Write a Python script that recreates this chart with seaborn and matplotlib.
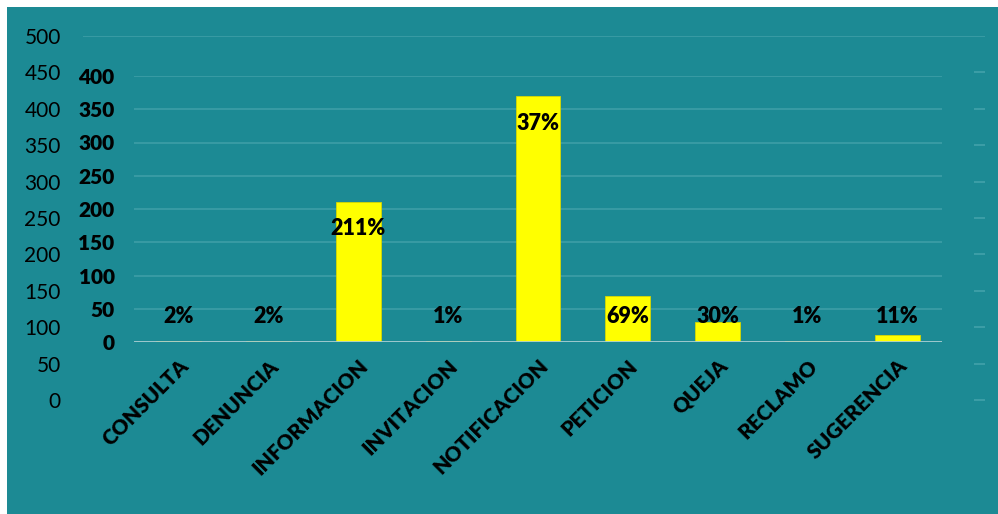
import numpy as np
import pandas as pd
import matplotlib
matplotlib.use("Agg")
import matplotlib.pyplot as plt
import seaborn as sns

# data
categories = ["CONSULTA", "DENUNCIA", "INFORMACION", "INVITACION", "NOTIFICACION",
              "PETICION", "QUEJA", "RECLAMO", "SUGERENCIA"]
values = [2, 2, 211, 1, 370, 69, 30, 1, 11]
bar_labels = ["2%", "2%", "211%", "1%", "37%", "69%", "30%", "1%", "11%"]
outer_ticks = [0, 50, 100, 150, 200, 250, 300, 350, 400, 450, 500]
inner_ticks = [0, 50, 100, 150, 200, 250, 300, 350, 400]

df = pd.DataFrame({"categoria": categories, "valor": values})

sns.set_theme(style="white")
plt.rcParams["font.family"] = ["Lato", "DejaVu Sans"]
plt.rcParams["text.color"] = "black"
plt.rcParams["xtick.color"] = "black"
plt.rcParams["ytick.color"] = "black"

teal = "#1C8A94"
grid_c = "#3A9CA5"

W, H = 998, 514
fig = plt.figure(figsize=(W / 100, H / 100), dpi=100, facecolor="white")

def box(x0, x1, ytop, ybot):
    return [x0 / W, 1 - ybot / H, (x1 - x0) / W, (ybot - ytop) / H]

# teal background panel
bg = fig.add_axes(box(7, W, 7, H), zorder=-1)
bg.set_facecolor(teal)
bg.set_xticks([])
bg.set_yticks([])
for s in bg.spines.values():
    s.set_visible(False)

# outer (background) axis 0-500
ax0 = fig.add_axes(box(83, 985, 36, 400), zorder=1)
ax0.set_facecolor("none")
ax0.set_ylim(0, 500)
ax0.set_yticks(outer_ticks)
ax0.set_yticklabels([str(t) for t in outer_ticks], color="black", fontsize=15)
ax0.set_xticks([])
ax0.axhline(500, color=grid_c, lw=1.3, zorder=0)
ax0.tick_params(axis="y", left=False, right=True, labelleft=True, labelright=False,
                direction="in", length=8, width=1.3, color="#3FA0A9", pad=16)
ax0.yaxis.get_major_ticks()[0].tick2line.set_color("#A8CDD2")
ax0.yaxis.get_major_ticks()[0].tick2line.set_linewidth(2)
ax0.yaxis.get_major_ticks()[-1].tick2line.set_visible(False)
for s in ax0.spines.values():
    s.set_visible(False)

# inner axis with the bars
ax = fig.add_axes(box(134, 942, 76, 342), zorder=2)
ax.set_facecolor("none")
sns.barplot(data=df, x="categoria", y="valor", color="#FFFF00", width=0.5,
            saturation=1, edgecolor="#D8D800", linewidth=0.6, ax=ax, zorder=3)
ax.set_ylim(0, 400)
ax.set_xlim(-0.5, len(categories) - 0.5)
ax.set_yticks(inner_ticks)
ax.set_yticklabels([str(t) for t in inner_ticks], fontweight="heavy",
                   color="black", fontsize=15)
ax.yaxis.grid(True, color=grid_c, lw=1.3)
ax.set_axisbelow(True)
ax.axhline(0, color="#A8CDD2", lw=2, zorder=4)
for s in ax.spines.values():
    s.set_visible(False)
ax.set_xlabel("")
ax.set_ylabel("")
ax.tick_params(axis="y", length=0, pad=14)
ax.tick_params(axis="x", length=0, pad=10)
ax.set_xticks(range(len(categories)))
ax.set_xticklabels(categories, rotation=45, ha="right", rotation_mode="anchor",
                   fontsize=15, fontweight="heavy", color="black")

for i, (v, lab) in enumerate(zip(values, bar_labels)):
    ax.text(i, max(v - 41, 38), lab, ha="center", va="center", fontsize=15.5,
            fontweight="heavy", color="black", zorder=5)

fig.savefig("out.png", dpi=100, facecolor="white")
